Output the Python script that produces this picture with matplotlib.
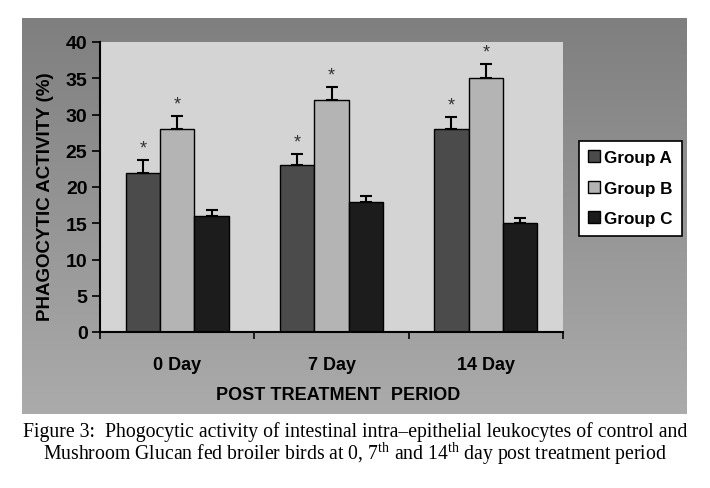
import numpy as np
import matplotlib.pyplot as plt

plt.rcParams['font.family'] = ['Liberation Sans', 'DejaVu Sans']
plt.rcParams['mathtext.fontset'] = 'custom'
plt.rcParams['mathtext.rm'] = 'Liberation Serif'

days = ["0 Day", "7 Day", "14 Day"]
groups = ["Group A", "Group B", "Group C"]
group_a = [22, 23, 28]
group_b = [28, 32, 35]
group_c = [16, 18, 15]
err_a = [1.7, 1.6, 1.7]
err_b = [1.8, 1.8, 2.0]
err_c = [0.8, 0.8, 0.7]
significant = [True, True, False]

colors = ["#4b4b4b", "#b4b4b4", "#1c1c1c"]

fig = plt.figure(figsize=(7.1, 4.89), dpi=100)
fig.patch.set_facecolor("white")

# grey gradient panel behind the chart
bg = fig.add_axes([22 / 710, 1 - 415 / 489, 665 / 710, 396 / 489], zorder=0)
grad = np.linspace(0, 1, 256).reshape(-1, 1)
bg.imshow(grad, aspect="auto", cmap=plt.matplotlib.colors.LinearSegmentedColormap.from_list(
    "g", ["#7f7f7f", "#ababab"]), extent=[0, 1, 0, 1], origin="upper")
bg.axis("off")

ax = fig.add_axes([100 / 710, 1 - 333 / 489, 463 / 710, 290 / 489], zorder=1)
ax.set_facecolor("#d4d4d4")

x = np.arange(len(days))
w = 0.223
data = [group_a, group_b, group_c]
errs = [err_a, err_b, err_c]
for i in range(3):
    pos = x + (i - 1) * w
    ax.bar(pos, data[i], w, color=colors[i], edgecolor="black", linewidth=1,
           label=groups[i], zorder=2)
    ax.errorbar(pos, data[i], yerr=[np.zeros(3), errs[i]], fmt="none",
                ecolor="black", elinewidth=1.5, capsize=4, capthick=1.5, zorder=3)
    if significant[i]:
        for p, v, e in zip(pos, data[i], errs[i]):
            ax.text(p, v + e + 0.5, "*", ha="center", va="bottom",
                    fontsize=13, color="#333333")

ax.set_xlim(-0.5, 2.5)
ax.set_ylim(0, 40)
ax.set_yticks(range(0, 41, 5))
ax.set_xticks(x)
ax.set_xticklabels(days, fontsize=13, fontweight="bold")
ax.set_xticks([-0.5, 0.5, 1.5, 2.5], minor=True)
ax.tick_params(axis="x", which="major", length=0, pad=17)
ax.tick_params(axis="x", which="minor", length=5, width=1.2, direction="out")
ax.tick_params(axis="y", length=6, width=1.2, direction="out", labelsize=14, pad=3)
for lab in ax.get_yticklabels():
    lab.set_fontweight("bold")

for s in ["top", "right"]:
    ax.spines[s].set_visible(False)
ax.spines["left"].set_linewidth(1.5)
ax.spines["bottom"].set_linewidth(1.5)

ax.set_ylabel("PHAGOCYTIC ACTIVITY (%)", fontsize=13.5, fontweight="bold")
ax.yaxis.set_label_coords(-0.1, 0.47)
ax.set_xlabel("POST TREATMENT  PERIOD", fontsize=13, fontweight="bold")
ax.xaxis.set_label_coords(0.515, -0.185)

leg = fig.legend(loc="upper left", bbox_to_anchor=(579 / 710, 1 - 142 / 489),
                 frameon=True, fancybox=False, edgecolor="black", facecolor="white",
                 framealpha=1, handlelength=0.7, handleheight=0.7, handletextpad=0.2,
                 labelspacing=0.9, borderpad=0.55, borderaxespad=0,
                 prop={"weight": "bold", "size": 12.3})
leg.get_frame().set_linewidth(1.2)

fig.text(0.5, 1 - 432 / 489,
         "Figure 3:  Phogocytic activity of intestinal intra\u2013epithelial leukocytes of control and",
         ha="center", va="center", fontsize=14.2, family="Liberation Serif")
fig.text(0.5, 1 - 454 / 489,
         r"Mushroom Glucan fed broiler birds at 0, 7$^{\mathrm{th}}$ and 14$^{\mathrm{th}}$ day post treatment period",
         ha="center", va="center", fontsize=14.2, family="Liberation Serif")

fig.savefig("out.png", dpi=100)
